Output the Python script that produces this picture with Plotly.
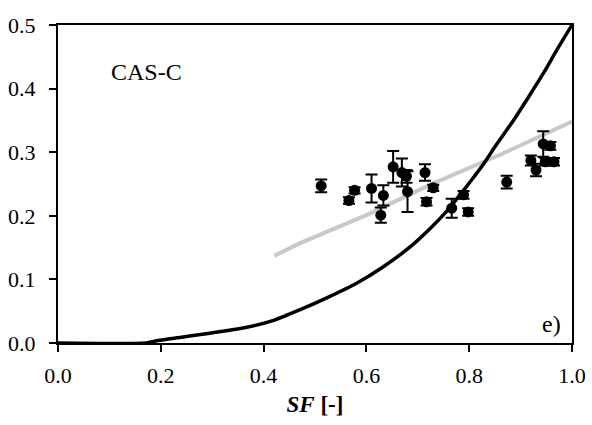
import plotly.graph_objects as go

# Measured data points (SF vs value) with error bars
sf_obs = [0.512, 0.577, 0.566, 0.610, 0.633, 0.628, 0.652, 0.669, 0.680, 0.714,
          0.730, 0.717, 0.789, 0.766, 0.798, 0.873, 0.944, 0.958, 0.920, 0.948,
          0.965, 0.930, 0.678]
y_obs = [0.247, 0.240, 0.224, 0.243, 0.232, 0.201, 0.277, 0.268, 0.238, 0.268,
         0.244, 0.222, 0.233, 0.212, 0.206, 0.253, 0.313, 0.310, 0.287, 0.285,
         0.285, 0.272, 0.262]
err_obs = [0.010, 0.005, 0.005, 0.022, 0.016, 0.012, 0.025, 0.022, 0.032, 0.013,
           0.005, 0.006, 0.006, 0.015, 0.006, 0.010, 0.020, 0.006, 0.008, 0.006,
           0.006, 0.010, 0.010]

# Black model curve
sf_curve = [0.0, 0.17, 0.195, 0.24, 0.292, 0.363, 0.421, 0.47, 0.523, 0.581,
            0.633, 0.685, 0.724, 0.756, 0.789, 0.824, 0.853, 0.886, 0.918, 0.945, 0.97, 1.0]
y_curve = [0.0, 0.0, 0.004, 0.009, 0.015, 0.024, 0.036, 0.052, 0.071, 0.094,
           0.120, 0.151, 0.180, 0.207, 0.240, 0.277, 0.312, 0.350, 0.390, 0.425, 0.46, 0.5]

# Grey regression line
sf_grey = [0.421, 0.471, 0.60, 0.73, 0.86, 1.0]
y_grey = [0.137, 0.157, 0.201, 0.251, 0.296, 0.348]

x_ticks = [0.0, 0.2, 0.4, 0.6, 0.8, 1.0]
y_ticks = [0.0, 0.1, 0.2, 0.3, 0.4, 0.5]

FONT = "Liberation Serif, Times New Roman, Times, serif"

fig = go.Figure()
fig.add_trace(go.Scatter(x=sf_grey, y=y_grey, mode="lines",
                         line=dict(color="#c8c8c8", width=4), showlegend=False))
fig.add_trace(go.Scatter(x=sf_curve, y=y_curve, mode="lines",
                         line=dict(color="black", width=3.5, shape="spline", smoothing=0.6),
                         showlegend=False))
fig.add_trace(go.Scatter(x=sf_obs, y=y_obs, mode="markers",
                         marker=dict(color="black", size=11),
                         error_y=dict(type="data", array=err_obs, color="black",
                                      thickness=2, width=6),
                         showlegend=False))

fig.add_annotation(x=0.173, y=0.426, text="CAS-C", showarrow=False,
                   font=dict(family=FONT, size=24, color="black"))
fig.add_annotation(x=0.96, y=0.03, text="e)", showarrow=False,
                   font=dict(family=FONT, size=24, color="black"))

fig.update_layout(
    width=592, height=425,
    margin=dict(l=58, r=20, t=25, b=82),
    paper_bgcolor="white", plot_bgcolor="white",
    font=dict(family=FONT, size=22, color="black"),
)
fig.update_xaxes(range=[0, 1], tickvals=x_ticks, ticktext=[f"{v:.1f}" for v in x_ticks],
                 showgrid=False, zeroline=False, showline=True, linecolor="black",
                 linewidth=2, mirror=True, ticks="outside", ticklen=7, tickwidth=2,
                 tickcolor="black", ticklabelstandoff=5, automargin=False,
                 title=dict(text="<b><i>SF</i> [-]</b>", font=dict(family=FONT, size=23),
                            standoff=8))
fig.update_yaxes(range=[0, 0.5], tickvals=y_ticks, ticktext=[f"{v:.1f}" for v in y_ticks],
                 showgrid=False, zeroline=False, showline=True, linecolor="black",
                 linewidth=2, mirror=True, ticks="outside", ticklen=7, tickwidth=2,
                 tickcolor="black", ticklabelstandoff=9, automargin=False)

fig.write_html("out.html")
